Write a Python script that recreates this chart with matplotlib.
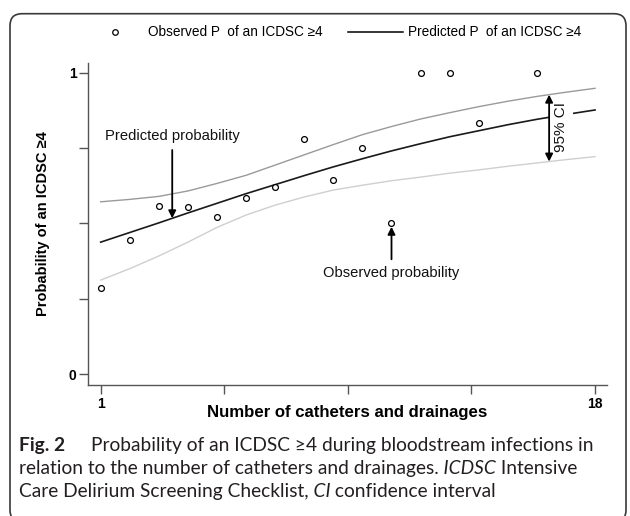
import numpy as np
import matplotlib.pyplot as plt
from matplotlib.lines import Line2D
from matplotlib.patches import FancyBboxPatch

W, H = 630, 516

# observed proportions per number of catheters / drainages
x_obs = [1, 2, 3, 4, 5, 6, 7, 8, 9, 10, 11, 12, 13, 14, 16]
p_obs = [0.287, 0.446, 0.558, 0.554, 0.521, 0.586, 0.620, 0.780, 0.645,
         0.751, 0.502, 1.0, 1.0, 0.835, 1.0]

# fitted curve and 95% CI, read at each count
x_fit = list(range(1, 19))
p_fit = [0.438, 0.470, 0.502, 0.535, 0.567, 0.599, 0.629, 0.659, 0.688,
         0.715, 0.741, 0.765, 0.788, 0.808, 0.828, 0.846, 0.862, 0.877]
ci_hi = [0.572, 0.580, 0.590, 0.608, 0.633, 0.660, 0.694, 0.728, 0.762,
         0.795, 0.822, 0.847, 0.868, 0.888, 0.906, 0.922, 0.936, 0.949]
ci_lo = [0.312, 0.350, 0.392, 0.438, 0.487, 0.528, 0.561, 0.588, 0.611,
         0.627, 0.642, 0.654, 0.667, 0.678, 0.690, 0.701, 0.712, 0.722]

xticks = [1, 5.25, 9.5, 13.75, 18]
xticklabels = ["1", "", "", "", "18"]
yticks = [0, 0.25, 0.5, 0.75, 1]
yticklabels = ["0", "", "", "", "1"]

legend_obs = "Observed P  of an ICDSC \u22654"
legend_pred = "Predicted P  of an ICDSC \u22654"

plt.rcParams["font.family"] = ["Liberation Sans", "DejaVu Sans"]

fig = plt.figure(figsize=(W / 100, H / 100), dpi=100)


def fx(px):
    return px / W


def fy(py):
    return 1 - py / H


ax_w, ax_h = 518.4, 322.3
ax = fig.add_axes([fx(88.3), fy(385), ax_w / W, ax_h / H])

ax.plot(x_fit, ci_hi, color="#9a9a9a", lw=1.0)
ax.plot(x_fit, ci_lo, color="#cfcfcf", lw=1.0)
ax.plot(x_fit, p_fit, color="#1a1a1a", lw=1.2)
ax.plot(x_obs, p_obs, "o", mfc="white", mec="black", ms=4.2, mew=0.9)

ax.set_xlim(0.574, 18.4)
ax.set_ylim(-0.0365, 1.034)
ax.set_xticks(xticks)
ax.set_xticklabels(xticklabels, fontweight="bold", fontsize=10)
ax.set_yticks(yticks)
ax.set_yticklabels(yticklabels, fontweight="bold", fontsize=10)
ax.tick_params(length=6.5, width=1, color="#555555", pad=2)
for s in ["top", "right"]:
    ax.spines[s].set_visible(False)
for s in ["left", "bottom"]:
    ax.spines[s].set_color("#555555")
    ax.spines[s].set_linewidth(1)

ax.set_xlabel("Number of catheters and drainages", fontsize=12.1,
              fontweight="bold", va="center")
ax.xaxis.set_label_coords(0.5, (385 - 413) / ax_h)
ax.set_ylabel("Probability of an ICDSC \u22654", fontsize=10.5,
              fontweight="bold", va="center")
ax.yaxis.set_label_coords((43 - 88.3) / ax_w, 0.5)

# annotations
ax.annotate("", xy=(3.46, np.interp(3.46, x_fit, p_fit)), xytext=(3.46, 0.744),
            arrowprops=dict(arrowstyle="-|>", color="black", lw=1.3,
                            mutation_scale=11, shrinkA=0, shrinkB=0))
ax.text(3.47, 0.791, "Predicted probability", ha="center", va="center",
        fontsize=10.6, color="#111111")

ax.annotate("", xy=(11, 0.489), xytext=(11, 0.381),
            arrowprops=dict(arrowstyle="-|>", color="black", lw=1.3,
                            mutation_scale=11, shrinkA=0, shrinkB=0))
ax.text(11, 0.337, "Observed probability", ha="center", va="center",
        fontsize=10.6, color="#111111")

xc = 16.42
ax.text(16.83, 0.822, "95% CI", rotation=90, ha="center", va="center",
        fontsize=11, color="#111111", zorder=4,
        bbox=dict(boxstyle="square,pad=0.35", fc="white", ec="none"))
ax.annotate("", xy=(xc, np.interp(xc, x_fit, ci_hi)),
            xytext=(xc, np.interp(xc, x_fit, ci_lo)),
            arrowprops=dict(arrowstyle="<|-|>", color="black", lw=1.3,
                            mutation_scale=11, shrinkA=0, shrinkB=0),
            zorder=5)

# legend row at the top
fig.add_artist(Line2D([fx(115)], [fy(32.3)], marker="o", mfc="white",
                      mec="black", ms=4, mew=0.9, transform=fig.transFigure))
fig.text(fx(148.3), fy(32.3), legend_obs, fontsize=9.8, va="center")
fig.add_artist(Line2D([fx(348.3), fx(403.3)], [fy(32.3), fy(32.3)],
                      color="black", lw=1.1, transform=fig.transFigure))
fig.text(fx(408.3), fy(32.3), legend_pred, fontsize=9.8, va="center")

# caption
cap_font = ["Lato", "DejaVu Sans"]
cap_size = 13.8
renderer = fig.canvas.get_renderer()


def caption_line(parts, x, y):
    for s, weight, style in parts:
        t = fig.text(fx(x), fy(y), s, fontsize=cap_size, family=cap_font,
                     fontweight=weight, fontstyle=style, color="#231f20",
                     va="center")
        x = t.get_window_extent(renderer).x1


caption_line([("Fig. 2", "bold", "normal")], 19, 445)
caption_line([("Probability of an ICDSC \u22654 during bloodstream infections in",
               "normal", "normal")], 91, 445)
caption_line([("relation to the number of catheters and drainages.", "normal", "normal"),
              (" ICDSC", "normal", "italic"),
              (" Intensive", "normal", "normal")], 19, 468.3)
caption_line([("Care Delirium Screening Checklist,", "normal", "normal"),
              (" CI", "normal", "italic"),
              (" confidence interval", "normal", "normal")], 19, 491.7)

# rounded frame around the figure panel
frame = FancyBboxPatch((10, -6), 616, 508.3, boxstyle="round,pad=0,rounding_size=12",
                       transform=None, fc="none", ec="#3a3a3a", lw=1.2)
fig.patches.append(frame)

fig.savefig("out.png", dpi=100)
